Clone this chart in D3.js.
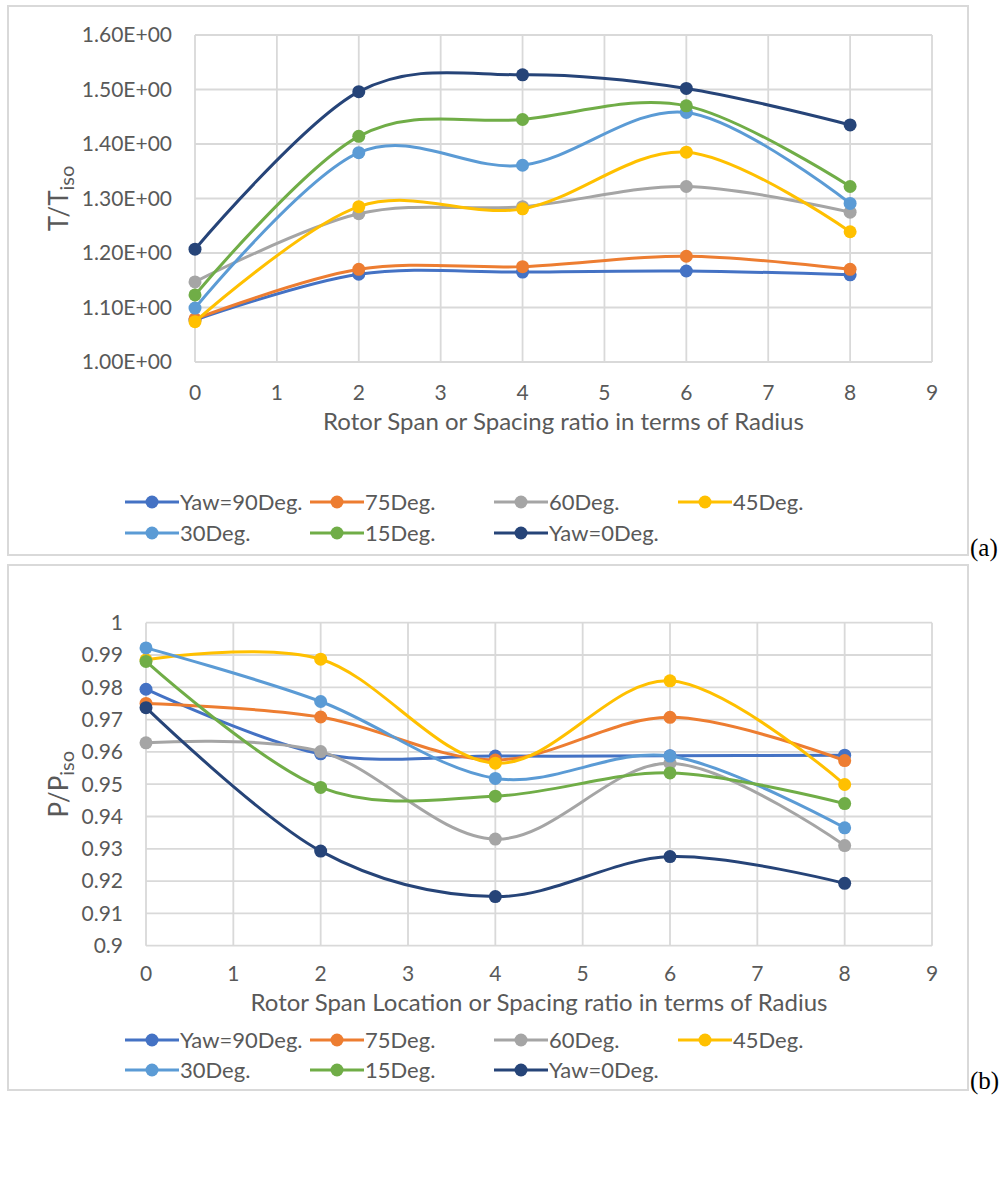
<!DOCTYPE html>
<html>
<head>
<meta charset="utf-8">
<script src="https://cdn.jsdelivr.net/npm/d3@7"></script>
<style>
  html, body { margin: 0; padding: 0; background: #ffffff; }
  svg { display: block; }
</style>
</head>
<body>
<svg id="chart" width="1008" height="1178"></svg>
<script>
// ---------------- DATA ----------------
const xValues = [0, 2, 4, 6, 8];
const seriesNames = ["Yaw=90Deg.", "75Deg.", "60Deg.", "45Deg.", "30Deg.", "15Deg.", "Yaw=0Deg."];
const seriesColors = ["#4472C4", "#ED7D31", "#A5A5A5", "#FFC000", "#5B9BD5", "#70AD47", "#264478"];

// (a) T/Tiso
const tYaw90 = [1.077, 1.161, 1.165, 1.167, 1.160];
const tYaw75 = [1.079, 1.170, 1.175, 1.194, 1.170];
const tYaw60 = [1.147, 1.272, 1.285, 1.322, 1.275];
const tYaw45 = [1.074, 1.285, 1.281, 1.385, 1.239];
const tYaw30 = [1.099, 1.384, 1.361, 1.458, 1.291];
const tYaw15 = [1.123, 1.414, 1.445, 1.470, 1.322];
const tYaw0  = [1.207, 1.496, 1.527, 1.502, 1.435];

// (b) P/Piso
const pYaw90 = [0.9794, 0.9594, 0.9587, 0.9588, 0.9590];
const pYaw75 = [0.9750, 0.9708, 0.9575, 0.9707, 0.9573];
const pYaw60 = [0.9628, 0.9601, 0.9330, 0.9565, 0.9310];
const pYaw45 = [0.9885, 0.9887, 0.9565, 0.9820, 0.9499];
const pYaw30 = [0.9922, 0.9756, 0.9518, 0.9587, 0.9365];
const pYaw15 = [0.9880, 0.9490, 0.9463, 0.9535, 0.9440];
const pYaw0  = [0.9737, 0.9293, 0.9152, 0.9276, 0.9193];

const xTicks = [0, 1, 2, 3, 4, 5, 6, 7, 8, 9];
const tTickValues = [1.0, 1.1, 1.2, 1.3, 1.4, 1.5, 1.6];
const tTickLabels = ["1.00E+00", "1.10E+00", "1.20E+00", "1.30E+00", "1.40E+00", "1.50E+00", "1.60E+00"];
const pTickValues = [0.90, 0.91, 0.92, 0.93, 0.94, 0.95, 0.96, 0.97, 0.98, 0.99, 1.00];
const pTickLabels = ["0.9", "0.91", "0.92", "0.93", "0.94", "0.95", "0.96", "0.97", "0.98", "0.99", "1"];

// ---------------- DRAW ----------------
const svg = d3.select("#chart");
svg.append("rect").attr("width", 1008).attr("height", 1178).attr("fill", "#fff");

const FONT = "Lato, 'Liberation Sans', sans-serif";
const TXT = "#595959";
const GRID = "#D9D9D9";
const FS_TICK = 21;
const FS_TITLE = 24;
const FS_LEG = 22;

function panel(cfg) {
  const g = svg.append("g");
  g.append("rect")
    .attr("x", cfg.box[0]).attr("y", cfg.box[1])
    .attr("width", cfg.box[2]).attr("height", cfg.box[3])
    .attr("fill", "none").attr("stroke", GRID).attr("stroke-width", 2);

  const x = d3.scaleLinear().domain([0, 9]).range([cfg.left, cfg.right]);
  const y = d3.scaleLinear().domain(cfg.yDomain).range([cfg.bottom, cfg.top]);

  g.append("g").selectAll("line").data(cfg.yTicks).join("line")
    .attr("x1", cfg.left).attr("x2", cfg.right)
    .attr("y1", d => y(d)).attr("y2", d => y(d))
    .attr("stroke", GRID).attr("stroke-width", 1.8);
  g.append("g").selectAll("line").data(xTicks).join("line")
    .attr("x1", d => x(d)).attr("x2", d => x(d))
    .attr("y1", cfg.top).attr("y2", cfg.bottom)
    .attr("stroke", GRID).attr("stroke-width", 1.8);

  g.append("g").selectAll("text").data(cfg.yTicks).join("text")
    .attr("x", cfg.left - 23).attr("y", d => y(d))
    .attr("dy", "0.35em").attr("text-anchor", "end")
    .attr("font-family", FONT).attr("font-size", FS_TICK).attr("fill", TXT)
    .text((d, i) => cfg.yLabels[i]);
  g.append("g").selectAll("text").data(xTicks).join("text")
    .attr("x", d => x(d)).attr("y", cfg.bottom + cfg.xTickOff)
    .attr("dy", "0.35em").attr("text-anchor", "middle")
    .attr("font-family", FONT).attr("font-size", FS_TICK).attr("fill", TXT)
    .text(d => d);

  g.append("text")
    .attr("x", (cfg.left + cfg.right) / 2).attr("y", cfg.bottom + cfg.xTitleOff)
    .attr("dy", "0.35em").attr("text-anchor", "middle")
    .attr("font-family", FONT).attr("font-size", FS_TITLE).attr("fill", TXT)
    .text(cfg.xTitle);
  const yt = g.append("text")
    .attr("transform", `translate(${cfg.yTitleX},${(cfg.top + cfg.bottom) / 2}) rotate(-90)`)
    .attr("text-anchor", "middle").attr("dy", "0.3em")
    .attr("font-family", FONT).attr("font-size", FS_TITLE + 2).attr("fill", TXT);
  yt.append("tspan").text(cfg.yTitleMain);
  yt.append("tspan").attr("font-size", FS_TITLE - 4).attr("dy", "0.3em").text("iso");

  const line = d3.line()
    .x((d, i) => x(xValues[i]))
    .y(d => y(d))
    .curve(d3.curveCardinal.tension(0));
  cfg.series.forEach((vals, si) => {
    const sg = g.append("g");
    sg.append("path").attr("d", line(vals))
      .attr("fill", "none").attr("stroke", seriesColors[si])
      .attr("stroke-width", 3).attr("stroke-linecap", "round");
    sg.selectAll("circle").data(vals).join("circle")
      .attr("cx", (d, i) => x(xValues[i])).attr("cy", d => y(d))
      .attr("r", 6.5).attr("fill", seriesColors[si]);
  });

  const cols = [125, 310, 494, 678];
  seriesNames.forEach((name, i) => {
    const cx = cols[i % 4];
    const cy = cfg.legendRows[Math.floor(i / 4)];
    const lg = g.append("g");
    lg.append("line").attr("x1", cx).attr("x2", cx + 54).attr("y1", cy).attr("y2", cy)
      .attr("stroke", seriesColors[i]).attr("stroke-width", 3);
    lg.append("circle").attr("cx", cx + 27).attr("cy", cy).attr("r", 6.5).attr("fill", seriesColors[i]);
    lg.append("text").attr("x", cx + 55).attr("y", cy).attr("dy", "0.35em")
      .attr("font-family", FONT).attr("font-size", FS_LEG).attr("fill", TXT).text(name);
  });

  svg.append("text").attr("x", 970).attr("y", cfg.tag[1]).attr("dy", "0.35em")
    .attr("font-family", "'Liberation Serif', 'Times New Roman', serif")
    .attr("font-size", 25).attr("fill", "#000").text(cfg.tag[0]);
}

panel({
  box: [8, 6, 960, 549],
  left: 195, right: 932, top: 35, bottom: 362,
  yDomain: [1.0, 1.6], yTicks: tTickValues, yLabels: tTickLabels,
  xTickOff: 31, xTitleOff: 60,
  xTitle: "Rotor Span or Spacing ratio in terms of Radius",
  yTitleX: 60, yTitleMain: "T/T",
  series: [tYaw90, tYaw75, tYaw60, tYaw45, tYaw30, tYaw15, tYaw0],
  legendRows: [502, 533],
  tag: ["(a)", 547]
});

panel({
  box: [8, 565, 960, 525],
  left: 146, right: 932, top: 622.7, bottom: 945.7,
  yDomain: [0.9, 1.0], yTicks: pTickValues, yLabels: pTickLabels,
  xTickOff: 28, xTitleOff: 57,
  xTitle: "Rotor Span Location or Spacing ratio in terms of Radius",
  yTitleX: 60, yTitleMain: "P/P",
  series: [pYaw90, pYaw75, pYaw60, pYaw45, pYaw30, pYaw15, pYaw0],
  legendRows: [1040, 1070],
  tag: ["(b)", 1080]
});
</script>
</body>
</html>
